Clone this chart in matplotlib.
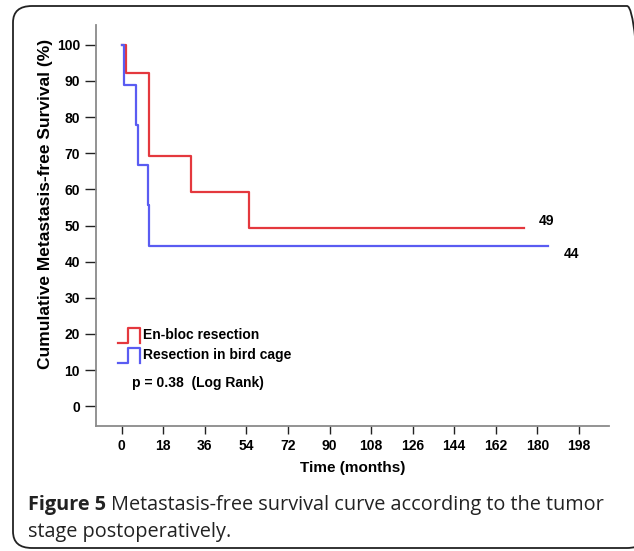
import matplotlib
matplotlib.use("Agg")
import matplotlib.pyplot as plt
from matplotlib.patches import FancyBboxPatch
from matplotlib.lines import Line2D

# Kaplan-Meier curves (months, %)
red_t = [0, 1.3, 2, 12, 30, 55, 174]
red_s = [100, 100, 92.3, 69.2, 59.3, 49.4, 49.4]
blue_t = [0, 0.8, 1, 6.3, 7.2, 11.2, 12, 184.5]
blue_s = [100, 100, 88.9, 77.8, 66.7, 55.6, 44.4, 44.4]

labels = ["En-bloc resection", "Resection in bird cage"]
end_labels = ["49", "44"]
xticks = [0, 18, 36, 54, 72, 90, 108, 126, 144, 162, 180, 198]
yticks = [0, 10, 20, 30, 40, 50, 60, 70, 80, 90, 100]

red = "#e4383e"
blue = "#5a5cf2"

plt.rcParams['font.family'] = ['Liberation Sans', 'DejaVu Sans']

fig = plt.figure(figsize=(6.34, 5.51), dpi=100)
W, H = 634, 551

def fx(px):
    return px / W

def fy(py):
    return 1 - py / H

# rounded frame (right edge runs off the picture)
frame = FancyBboxPatch((fx(13), fy(548)), fx(646) - fx(13), fy(6) - fy(548),
                       boxstyle="round,pad=0,rounding_size=0.03",
                       transform=fig.transFigure, fill=False,
                       edgecolor="#222222", linewidth=1.3)
fig.patches.append(frame)

ax = fig.add_axes([fx(96), fy(426), fx(609) - fx(96), fy(25) - fy(426)])
ax.step(red_t, red_s, where="post", color=red, lw=1.6)
ax.step(blue_t, blue_s, where="post", color=blue, lw=1.6)

ax.set_xlim(-11.1, 211)
ax.set_ylim(-5.5, 105.5)
ax.set_xticks(xticks)
ax.set_yticks(yticks)
for s in ["top", "right"]:
    ax.spines[s].set_visible(False)
for s in ["left", "bottom"]:
    ax.spines[s].set_color("#8a8a8a")
    ax.spines[s].set_linewidth(1.3)
ax.tick_params(axis="y", length=8, width=1, color="#222222", pad=3.5)
ax.tick_params(axis="x", length=6, width=1, color="#222222", pad=3)
for lab in ax.get_xticklabels() + ax.get_yticklabels():
    lab.set_fontweight("bold")
    lab.set_fontsize(10)

ax.set_xlabel("Time (months)", fontsize=11, fontweight="bold", labelpad=6)
ax.set_ylabel("Cumulative Metastasis-free Survival (%)", fontsize=12.5,
              fontweight="bold", va="center")
ax.yaxis.set_label_coords((46 - 96) / 513, (426 - 203.5) / 401)

# end labels
ax.text(red_t[-1] + 6.5, red_s[-1] + 1.8, end_labels[0], fontsize=10,
        fontweight="bold", va="center")
ax.text(blue_t[-1] + 7, blue_s[-1] - 2.3, end_labels[1], fontsize=10,
        fontweight="bold", va="center")

# legend drawn by hand, SPSS style
def sym(y0, color):
    xs = [fx(117.7), fx(128.3), fx(128.3), fx(140), fx(140)]
    ys = [fy(y0), fy(y0), fy(y0 - 15), fy(y0 - 15), fy(y0)]
    fig.add_artist(Line2D(xs, ys, color=color, lw=1.6, transform=fig.transFigure))

sym(343, red)
sym(363, blue)
fig.text(fx(143), fy(335), labels[0], fontsize=10, fontweight="bold", va="center")
fig.text(fx(143), fy(355), labels[1], fontsize=10, fontweight="bold", va="center")
fig.text(fx(132), fy(383), "p = 0.38  (Log Rank)", fontsize=10,
         fontweight="bold", va="center")

# caption
cap1 = fig.text(fx(28), fy(505), "Figure 5", fontsize=14.3, va="center",
                family="Open Sans", fontweight="bold", color="#222222")
fig.canvas.draw()
bb = cap1.get_window_extent()
fig.text(bb.x1 / W + 0.008, fy(505),
         "Metastasis-free survival curve according to the tumor",
         fontsize=14.3, va="center", family="Open Sans", color="#222222")
fig.text(fx(28), fy(532), "stage postoperatively.", fontsize=14.3, va="center",
         family="Open Sans", color="#222222")

fig.savefig("out.png", dpi=100)
